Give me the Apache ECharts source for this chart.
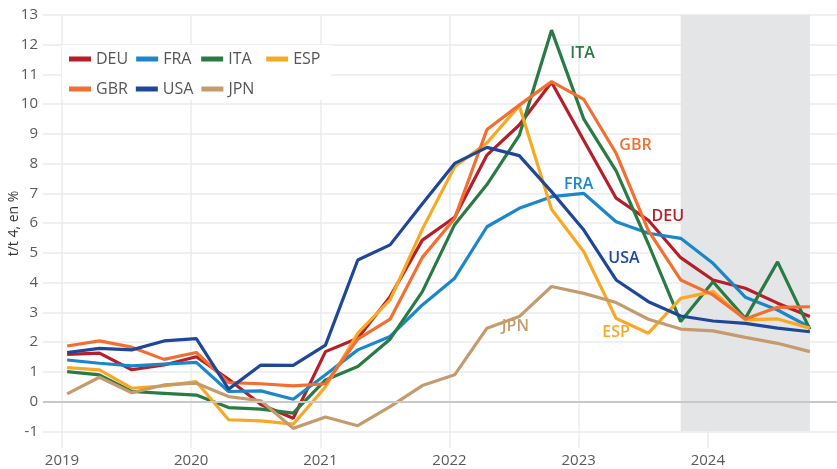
<!DOCTYPE html>
<html>
<head>
<meta charset="utf-8">
<script src="https://cdn.jsdelivr.net/npm/echarts@6/dist/echarts.min.js"></script>
<style>html,body{margin:0;padding:0;background:#fff}#c{width:837px;height:469px}</style>
</head>
<body>
<div id="c"></div>
<script>
// Quarterly periods
const quarters = ['2019T1','2019T2','2019T3','2019T4','2020T1','2020T2','2020T3','2020T4',
  '2021T1','2021T2','2021T3','2021T4','2022T1','2022T2','2022T3','2022T4',
  '2023T1','2023T2','2023T3','2023T4','2024T1','2024T2','2024T3','2024T4'];
const yearTicks = [2019, 2020, 2021, 2022, 2023, 2024];
const valueTicks = [-1,0,1,2,3,4,5,6,7,8,9,10,11,12,13];

// Inflation, t/t 4, en %
const DEU = [1.59,1.63,1.07,1.23,1.51,0.75,-0.1,-0.56,1.68,2.13,3.53,5.43,6.2,8.29,9.3,10.74,8.78,6.84,6.1,4.84,4.09,3.81,3.31,2.86];
const FRA = [1.40,1.29,1.2,1.26,1.32,0.34,0.36,0.08,0.9,1.74,2.19,3.25,4.15,5.88,6.5,6.89,7.0,6.05,5.66,5.49,4.65,3.51,3.08,2.5];
const ITA = [1.01,0.9,0.34,0.28,0.22,-0.2,-0.25,-0.39,0.73,1.18,2.1,3.7,5.95,7.3,8.95,12.49,9.5,7.76,5.3,2.69,4.03,2.8,4.7,2.43];
const ESP = [1.14,1.07,0.45,0.53,0.67,-0.61,-0.65,-0.76,0.5,2.3,3.42,5.8,7.9,8.7,9.95,6.47,5.04,2.8,2.3,3.47,3.7,2.75,2.78,2.47];
const GBR = [1.87,2.04,1.83,1.42,1.65,0.64,0.6,0.53,0.6,2.1,2.77,4.85,6.16,9.15,9.97,10.76,10.16,8.35,5.75,4.09,3.59,2.78,3.17,3.19];
const USA = [1.65,1.79,1.74,2.04,2.12,0.42,1.23,1.22,1.9,4.76,5.27,6.65,8.01,8.55,8.27,7.06,5.77,4.09,3.36,2.88,2.71,2.63,2.47,2.35];
const JPN = [0.26,0.82,0.3,0.56,0.62,0.17,0.03,-0.9,-0.52,-0.81,-0.17,0.54,0.9,2.47,2.86,3.87,3.64,3.33,2.77,2.44,2.38,2.16,1.96,1.68];
const forecastFrom = '2023T4';
const forecastTo = '2024T4';

const seriesNames = ['DEU','FRA','ITA','ESP','GBR','USA','JPN'];
const seriesData = {DEU, FRA, ITA, ESP, GBR, USA, JPN};
const colors = {DEU:'#b41f2a', FRA:'#1b87c9', ITA:'#2a7b43', ESP:'#f9a826', GBR:'#f36f31', USA:'#1f4799', JPN:'#c49b6d'};
// annotation anchors (axis units)
const annot = {ITA:[2023.03,11.72], GBR:[2023.44,8.6], FRA:[2023.0,7.31], DEU:[2023.69,6.24], USA:[2023.35,4.8], JPN:[2022.51,2.54], ESP:[2023.29,2.31]};

function qx(label){ const y = +label.slice(0,4), q = +label.slice(5); return y + (q-1)/4 + 0.04; }

const series = [{
  name: 'bg', type: 'line', data: [], silent: true, z: 1,
  markArea: { silent: true, itemStyle: { color: '#e4e5e7' },
    data: [[{ xAxis: qx(forecastFrom), yAxis: 13 }, { xAxis: qx(forecastTo), yAxis: -1 }]] },
  markLine: { silent: true, symbol: 'none', label: { show: false },
    lineStyle: { color: '#c8c8c8', width: 2, type: 'solid' }, data: [{ yAxis: 0 }] }
}];
seriesNames.forEach(n => {
  series.push({
    name: n, type: 'line', z: 3,
    data: seriesData[n].map((v, i) => [qx(quarters[i]), v]),
    showSymbol: false, symbol: 'none',
    lineStyle: { width: 3.2, color: colors[n] },
    itemStyle: { color: colors[n] },
    markPoint: { silent: true, symbol: 'circle', symbolSize: 0,
      data: [{ coord: annot[n] }],
      label: { show: true, position: 'inside', formatter: n, color: colors[n],
        fontFamily: 'Open Sans', fontSize: 16, fontWeight: 600 } }
  });
});

const chart = echarts.init(document.getElementById('c'), null, { renderer: 'canvas' });
chart.setOption({
  animation: false,
  grid: { left: 43, right: 0, top: 15, bottom: 21, containLabel: false, outerBoundsMode: 'none' },
  legend: {
    data: seriesNames, left: 62, top: 45, width: 262,
    backgroundColor: '#fff', padding: [3, 8, 0, 7],
    icon: 'rect', itemWidth: 22, itemHeight: 5, itemGap: 8,
    textStyle: { fontFamily: 'Open Sans', fontSize: 16, color: '#555', width: 30, lineHeight: 22 }
  },
  xAxis: {
    type: 'value', min: 2018.853, max: 2025,
    axisLine: { show: false }, axisTick: { show: false, customValues: yearTicks },
    axisLabel: { customValues: yearTicks, margin: 5, color: '#595959', fontFamily: 'Open Sans', fontSize: 15, formatter: v => String(v) },
    splitLine: { show: true, lineStyle: { color: '#ebebeb', width: 1.5 } }
  },
  yAxis: {
    type: 'value', min: -1.56, max: 13,
    name: 't/t 4, en %', nameLocation: 'middle', nameGap: 22, nameRotate: 90, nameMoveOverlap: false,
    nameTextStyle: { fontFamily: 'Open Sans', fontSize: 14, color: '#333', padding: [0, 0, 0, 16] },
    axisLine: { show: false }, axisTick: { show: false, customValues: valueTicks },
    axisLabel: { customValues: valueTicks, margin: 5, color: '#595959', fontFamily: 'Open Sans', fontSize: 15 },
    splitLine: { show: true, lineStyle: { color: '#ebebeb', width: 1.5 } }
  },
  series
});
</script>
</body>
</html>
